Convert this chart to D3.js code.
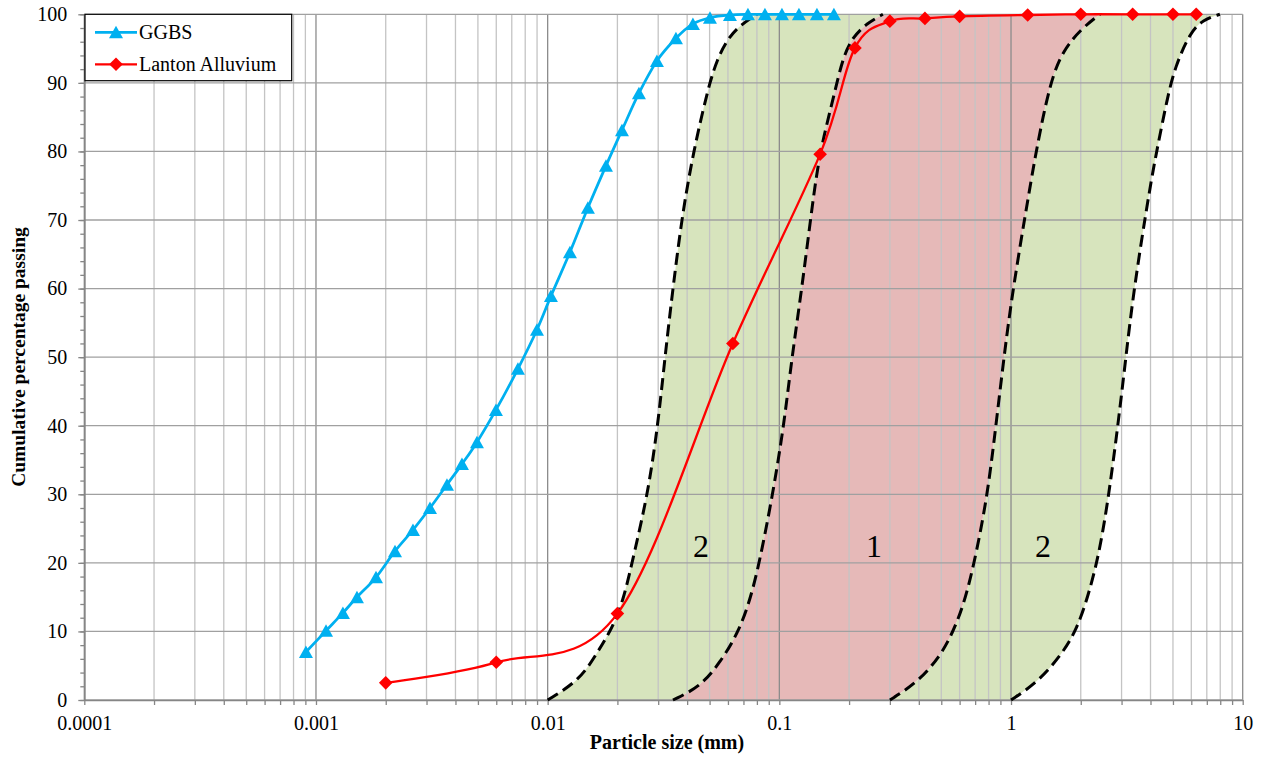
<!DOCTYPE html>
<html>
<head>
<meta charset="utf-8">
<script src="https://cdn.jsdelivr.net/npm/d3@7"></script>
<style>
  body { margin: 0; background: #fff; }
  svg { display: block; }
  text { font-family: "Liberation Serif", "Times New Roman", serif; fill: #000; }
</style>
</head>
<body>
<svg id="chart" width="1262" height="757"></svg>
<script>
// ---- Particle size distributions (size in mm, cumulative % passing) ----
const ggbsSize = [0.000905, 0.001105, 0.001307, 0.001503, 0.001816, 0.002193, 0.002622,
  0.003105, 0.003676, 0.004267, 0.004953, 0.005981, 0.007443, 0.008991, 0.01033,
  0.01248, 0.01492, 0.01785, 0.02093, 0.02477, 0.02962, 0.03579, 0.04237, 0.05018,
  0.06119, 0.07318, 0.08667, 0.1026, 0.1215, 0.1453, 0.1720];
const ggbsPassing = [7.0, 10.1, 12.7, 15.0, 17.9, 21.7, 24.8, 28.0, 31.4, 34.4, 37.6,
  42.3, 48.3, 54.0, 58.9, 65.3, 71.8, 77.9, 83.1, 88.5, 93.2, 96.5, 98.6, 99.5, 99.9,
  100, 100, 100, 100, 100, 100];

const alluviumSize = [0.002, 0.006, 0.02, 0.063, 0.15, 0.212, 0.3, 0.425, 0.6, 1.18,
  2, 3.35, 5, 6.3];
const alluviumPassing = [2.5, 5.5, 12.6, 52.0, 79.6, 95.1, 99.0, 99.4, 99.7, 99.9,
  100, 100, 100, 100];

// ---- Grading envelope boundaries (zone 1 = B..C, zone 2 = A..B and C..D) ----
const limitASize = [0.0100, 0.01378, 0.01632, 0.01858, 0.02113, 0.02381, 0.02710,
  0.02992, 0.03208, 0.03474, 0.03836, 0.04280, 0.04682, 0.05018, 0.05377, 0.05939,
  0.06761, 0.0800];
const limitAPct = [0, 2.9, 6.85, 9.9, 14.1, 21.9, 30.2, 40.1, 50, 60.1, 71.5, 80.2,
  86, 90.1, 93.3, 96.3, 98.4, 100];

const limitBSize = [0.03474, 0.04544, 0.05540, 0.06761, 0.07694, 0.08413, 0.09384,
  0.1047, 0.1133, 0.1252, 0.1396, 0.1497, 0.1703, 0.1881, 0.2078, 0.2388, 0.2799];
const limitBPct = [0, 1.9, 5.4, 10.2, 16.0, 21.9, 30.2, 40.1, 50, 60.1, 72.9, 80,
  87.5, 93.8, 96.7, 98.7, 100];

const limitCSize = [0.3001, 0.3926, 0.4933, 0.5613, 0.6200, 0.6847, 0.7870, 0.8606,
  0.9320, 1.019, 1.207, 1.293, 1.472, 1.675, 2.043, 2.419];
const limitCPct = [0, 2.5, 6.3, 9.9, 13.6, 19, 29.2, 40, 50, 60, 74.8, 80.6, 90,
  94.8, 98.1, 100];

const limitDSize = [1.0, 1.293, 1.626, 1.925, 2.190, 2.419, 2.646, 2.893, 3.132,
  3.392, 3.977, 4.264, 4.708, 5.097, 5.918, 6.734, 7.97];
const limitDPct = [0, 2.5, 6.3, 10.2, 16, 21.9, 30, 40, 50, 60, 74.8, 80.2, 87.5,
  92.3, 97.3, 99.2, 100];

// ---- Axis ticks and labels ----
const xTickLabels = ["0.0001", "0.001", "0.01", "0.1", "1", "10"];
const yMajorTicks = [0, 10, 20, 30, 40, 50, 60, 70, 80, 90, 100];
const zoneNames = ["2", "1", "2"];
const zoneNameSize = [0.0459, 0.256, 1.373];
const zoneNamePct = [20.8, 20.8, 20.8];

// ---- Layout ----
const serif = "'Liberation Serif', 'Times New Roman', serif";
const svg = d3.select("#chart");
const plot = { left: 84.3, right: 1242.7, top: 14.3, bottom: 700 };

const x = d3.scaleLog().domain([1e-4, 10]).range([plot.left, plot.right]);
const y = d3.scaleLinear().domain([0, 100]).range([plot.bottom, plot.top]);

const toPts = (sizes, pcts) => sizes.map((s, i) => [x(s), y(pcts[i])]);
const envelopeLine = d3.line().curve(d3.curveBasis);

// ---- Shaded zones ----
function zonePath(lSize, lPct, rSize, rPct) {
  const left = toPts(lSize, lPct);
  const right = toPts(rSize, rPct).reverse();
  return envelopeLine(left) + "L" + envelopeLine(right).slice(1) + "Z";
}
const zones = svg.append("g");
zones.append("path").attr("d", zonePath(limitASize, limitAPct, limitBSize, limitBPct)).attr("fill", "#d7e4bd");
zones.append("path").attr("d", zonePath(limitBSize, limitBPct, limitCSize, limitCPct)).attr("fill", "#e6b9b8");
zones.append("path").attr("d", zonePath(limitCSize, limitCPct, limitDSize, limitDPct)).attr("fill", "#d7e4bd");

// ---- Grid ----
const xGridVals = [];
for (let e = -4; e <= 0; e++) for (let k = 1; k <= 9; k++) xGridVals.push(k * Math.pow(10, e));
xGridVals.push(10);
const isDecade = v => Math.abs(Math.log10(v) - Math.round(Math.log10(v))) < 1e-9;

const grid = svg.append("g");
grid.selectAll("line.v").data(xGridVals).join("line")
  .attr("x1", d => x(d)).attr("x2", d => x(d))
  .attr("y1", plot.top).attr("y2", plot.bottom)
  .attr("stroke", d => isDecade(d) ? "#8c8c8c" : "#c4c4c4")
  .attr("stroke-width", 1.3);
grid.selectAll("line.h").data(yMajorTicks).join("line")
  .attr("x1", plot.left).attr("x2", plot.right)
  .attr("y1", d => y(d)).attr("y2", d => y(d))
  .attr("stroke", "#a0a0a0")
  .attr("stroke-width", 1.3);

// ---- Axes ----
const axisColor = "#868686";
const xAxis = d3.axisBottom(x)
  .tickValues(xGridVals)
  .tickSize(5).tickSizeOuter(0).tickPadding(11)
  .tickFormat(d => isDecade(d) ? xTickLabels[Math.round(Math.log10(d)) + 4] : "");
const gx = svg.append("g").attr("transform", `translate(0,${plot.bottom})`).call(xAxis);

const yMinor = d3.axisLeft(y).tickValues(d3.range(0, 101, 2)).tickSize(4).tickSizeOuter(0).tickFormat("");
const gyMinor = svg.append("g").attr("transform", `translate(${plot.left},0)`).call(yMinor);
const yMajor = d3.axisLeft(y).tickValues(yMajorTicks).tickSize(6).tickSizeOuter(0).tickPadding(11);
const gy = svg.append("g").attr("transform", `translate(${plot.left},0)`).call(yMajor);

[gx, gyMinor, gy].forEach(g => {
  g.attr("color", axisColor).attr("font-family", serif).attr("font-size", 20);
  g.selectAll("line").attr("stroke-width", 1.3);
  g.select(".domain").attr("stroke-width", 1.3);
  g.selectAll("text").attr("font-family", serif).style("font-family", serif)
    .style("font-size", "20px").attr("fill", "#000");
});

// ---- Envelope boundaries (dashed) ----
const bounds = svg.append("g").attr("fill", "none").attr("stroke", "#000")
  .attr("stroke-width", 3).attr("stroke-dasharray", "12,6");
[[limitASize, limitAPct], [limitBSize, limitBPct], [limitCSize, limitCPct], [limitDSize, limitDPct]]
  .forEach(([s, p]) => bounds.append("path").attr("d", envelopeLine(toPts(s, p))));

// ---- Zone names ----
svg.append("g").selectAll("text").data(zoneNames).join("text")
  .attr("x", (d, i) => x(zoneNameSize[i]))
  .attr("y", (d, i) => y(zoneNamePct[i]))
  .attr("text-anchor", "middle")
  .attr("font-family", serif)
  .style("font-size", "32px")
  .text(d => d);

// ---- Series ----
const seriesLine = d3.line().curve(d3.curveCatmullRom.alpha(0));
const triangle = "M0,-6.5L7,6L-7,6Z";
const diamond = "M0,-6.8L6.8,0L0,6.8L-6.8,0Z";

const ggbsPts = toPts(ggbsSize, ggbsPassing);
svg.append("path").attr("d", seriesLine(ggbsPts))
  .attr("fill", "none").attr("stroke", "#00b0f0").attr("stroke-width", 2.75);
svg.append("g").selectAll("path").data(ggbsPts).join("path")
  .attr("transform", d => `translate(${d[0]},${d[1]})`)
  .attr("d", triangle).attr("fill", "#00b0f0");

const alluviumPts = toPts(alluviumSize, alluviumPassing);
svg.append("path").attr("d", seriesLine(alluviumPts))
  .attr("fill", "none").attr("stroke", "#ff0000").attr("stroke-width", 2.3);
svg.append("g").selectAll("path").data(alluviumPts).join("path")
  .attr("transform", d => `translate(${d[0]},${d[1]})`)
  .attr("d", diamond).attr("fill", "#ff0000");

// ---- Axis titles ----
svg.append("text")
  .attr("x", 667).attr("y", 749)
  .attr("text-anchor", "middle")
  .attr("font-family", serif)
  .style("font-size", "20px").style("font-weight", "bold")
  .text("Particle size (mm)");
svg.append("text")
  .attr("transform", "translate(25,357) rotate(-90)")
  .attr("text-anchor", "middle")
  .attr("font-family", serif)
  .style("font-size", "19.5px").style("font-weight", "bold")
  .text("Cumulative percentage passing");

// ---- Legend ----
const legend = svg.append("g");
legend.append("rect").attr("x", 85).attr("y", 14.3).attr("width", 206.7).attr("height", 66.4)
  .attr("fill", "#fff").attr("stroke", "#000").attr("stroke-width", 1.2);
const legendItems = [
  { name: "GGBS", color: "#00b0f0", marker: triangle, width: 2.75 },
  { name: "Lanton Alluvium", color: "#ff0000", marker: diamond, width: 2.3 }
];
legendItems.forEach((item, i) => {
  const cy = 32.3 + i * 32;
  legend.append("line").attr("x1", 95).attr("x2", 137).attr("y1", cy).attr("y2", cy)
    .attr("stroke", item.color).attr("stroke-width", item.width);
  legend.append("path").attr("transform", `translate(116,${cy})`).attr("d", item.marker)
    .attr("fill", item.color);
  legend.append("text").attr("x", 139).attr("y", cy + 7)
    .attr("font-family", serif).style("font-size", "20px").text(item.name);
});
</script>
</body>
</html>
